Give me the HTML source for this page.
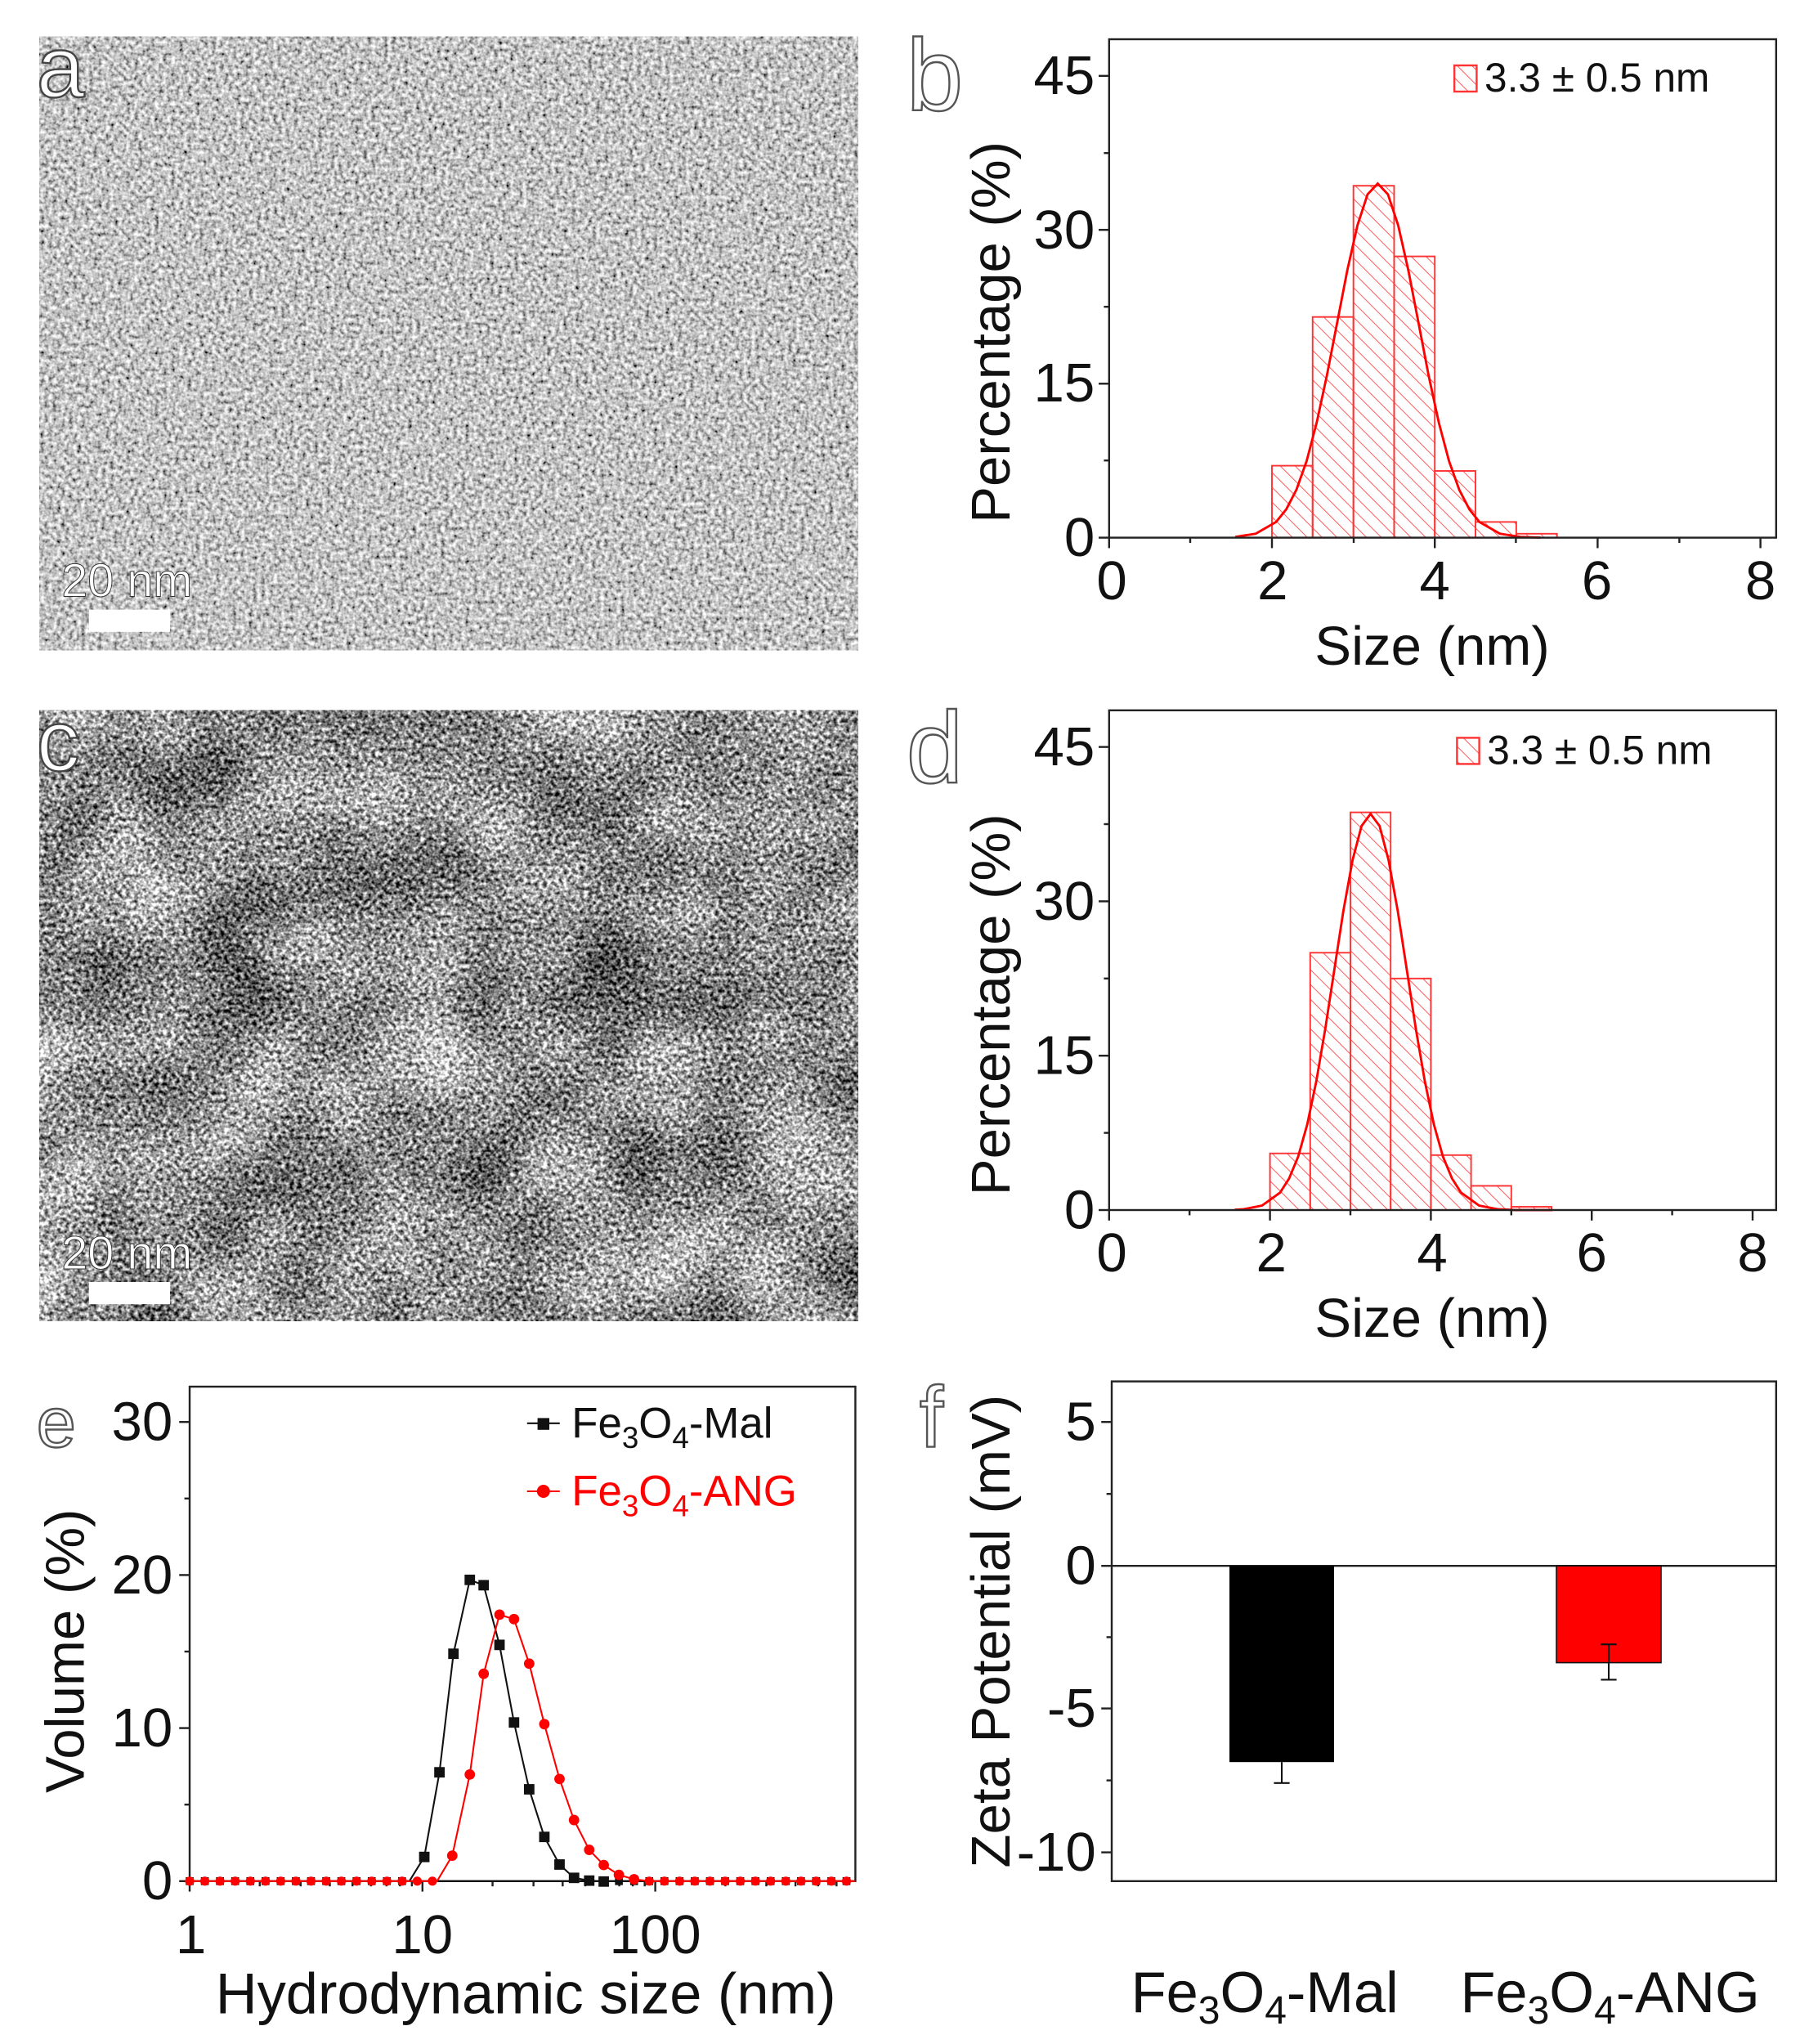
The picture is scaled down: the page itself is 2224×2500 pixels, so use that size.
<!DOCTYPE html>
<html><head><meta charset="utf-8"><style>
html,body{margin:0;padding:0;background:#fff}
svg{display:block}
text{font-family:"Liberation Sans",Arial,sans-serif}
</style></head><body>
<svg width="2224" height="2500" viewBox="0 0 1390 1562.5" xmlns="http://www.w3.org/2000/svg">
<defs>
<filter id="tem1" x="0" y="0" width="100%" height="100%">
<feTurbulence type="fractalNoise" baseFrequency="0.32" numOctaves="2" seed="3" result="n"/>
<feColorMatrix in="n" type="matrix" values="1.6 0 0 0 -0.25  1.6 0 0 0 -0.25  1.6 0 0 0 -0.25  0 0 0 0 1"/>
</filter>
<filter id="tem2" x="0" y="0" width="100%" height="100%" color-interpolation-filters="sRGB">
<feTurbulence type="fractalNoise" baseFrequency="0.32" numOctaves="2" seed="7" result="n0"/>
<feColorMatrix in="n0" type="matrix" values="1 0 0 0 0  1 0 0 0 0  1 0 0 0 0  0 0 0 0 1" result="n"/>
<feTurbulence type="fractalNoise" baseFrequency="0.014" numOctaves="2" seed="2" result="l0"/>
<feColorMatrix in="l0" type="matrix" values="1 0 0 0 0  1 0 0 0 0  1 0 0 0 0  0 0 0 0 1" result="l"/>
<feComposite in="n" in2="l" operator="arithmetic" k1="0" k2="1" k3="0.4" k4="-0.25" result="m"/>
<feColorMatrix in="m" type="matrix" values="1.7 0 0 0 -0.2  1.7 0 0 0 -0.2  1.7 0 0 0 -0.2  0 0 0 0 1"/>
</filter>
<pattern id="hatch" patternUnits="userSpaceOnUse" width="8" height="8" patternTransform="rotate(-45)">
<line x1="0" y1="0" x2="0" y2="8" stroke="#f55" stroke-width="1.2"/>
</pattern>
</defs>

<!-- panel a -->
<rect x="30" y="28" width="626" height="469" fill="#999" filter="url(#tem1)"/>
<text x="28" y="74" font-size="66" fill="#fff" stroke="#444" stroke-width="1.5">a</text>
<text x="47" y="456" font-size="36" fill="#fff" stroke="#333" stroke-width="0.6">20 nm</text>
<rect x="68" y="466" width="62" height="17" fill="#fff"/>

<!-- panel c -->
<rect x="30" y="543" width="626" height="467" fill="#999" filter="url(#tem2)"/>
<text x="28" y="589" font-size="66" fill="#fff" stroke="#444" stroke-width="1.5">c</text>
<text x="47" y="970" font-size="36" fill="#fff" stroke="#333" stroke-width="0.6">20 nm</text>
<rect x="68" y="980" width="62" height="17" fill="#fff"/>

<!-- panel b -->
<g>
<text x="693" y="84" font-size="78" fill="#fff" stroke="#555" stroke-width="1.5">b</text>
<g fill="url(#hatch)" stroke="#f33" stroke-width="1.2">
<rect x="972.5" y="356" width="31.1" height="55"/>
<rect x="1003.6" y="242.3" width="31.2" height="168.7"/>
<rect x="1034.8" y="142" width="31.1" height="269"/>
<rect x="1065.9" y="196" width="31.1" height="215"/>
<rect x="1097" y="360" width="31.1" height="51"/>
<rect x="1128.1" y="399" width="31.2" height="12"/>
<rect x="1159.3" y="408" width="31.1" height="3"/>
</g>
<polyline fill="none" stroke="#f00" stroke-width="1.8" points="944.5,410.4 960.1,408 975.6,399.1 983.4,389.4 991.2,374.4 999,352.5 1006.7,323.1 1014.5,287.1 1022.3,247 1030.1,206.7 1037.9,172.2 1045.6,148.6 1053.4,140.3 1061.2,148.6 1069,172.2 1076.8,206.7 1084.6,247 1092.3,287.1 1100.1,323.1 1107.9,352.5 1115.7,374.4 1123.5,389.4 1131.2,399.1 1146.8,408 1162.4,410.4 1177.9,411"/>
<rect x="848" y="30" width="510" height="381" fill="none" stroke="#222" stroke-width="1.5"/>
<g stroke="#222" stroke-width="1.5">
<line x1="840" y1="411" x2="848" y2="411"/><line x1="840" y1="293.3" x2="848" y2="293.3"/><line x1="840" y1="175.7" x2="848" y2="175.7"/><line x1="840" y1="58" x2="848" y2="58"/>
<line x1="844" y1="352" x2="848" y2="352"/><line x1="844" y1="234.5" x2="848" y2="234.5"/><line x1="844" y1="117" x2="848" y2="117"/>
<line x1="848" y1="411" x2="848" y2="419"/><line x1="972.5" y1="411" x2="972.5" y2="419"/><line x1="1097" y1="411" x2="1097" y2="419"/><line x1="1221.5" y1="411" x2="1221.5" y2="419"/><line x1="1346" y1="411" x2="1346" y2="419"/>
<line x1="910" y1="411" x2="910" y2="415"/><line x1="1035" y1="411" x2="1035" y2="415"/><line x1="1159" y1="411" x2="1159" y2="415"/><line x1="1284" y1="411" x2="1284" y2="415"/>
</g>
<g font-size="42" fill="#111" text-anchor="end">
<text x="837" y="425">0</text><text x="837" y="307">15</text><text x="837" y="190">30</text><text x="837" y="72">45</text>
</g>
<g font-size="42" fill="#111" text-anchor="middle">
<text x="850" y="458">0</text><text x="973" y="458">2</text><text x="1097" y="458">4</text><text x="1221" y="458">6</text><text x="1346" y="458">8</text>
<text x="1095" y="508">Size (nm)</text>
</g>
<text transform="translate(772,254) rotate(-90)" font-size="42" fill="#111" text-anchor="middle">Percentage (%)</text>
<rect x="1112" y="50" width="17" height="20" fill="url(#hatch)" stroke="#f33" stroke-width="1.5"/>
<text x="1135" y="70" font-size="31" fill="#111">3.3 ± 0.5 nm</text>
</g>

<!-- panel d -->
<g>
<text x="693" y="598" font-size="78" fill="#fff" stroke="#555" stroke-width="1.5">d</text>
<g fill="url(#hatch)" stroke="#f33" stroke-width="1.2">
<rect x="971" y="881.7" width="30.75" height="43.3"/>
<rect x="1001.75" y="728.3" width="30.75" height="196.7"/>
<rect x="1032.5" y="621" width="30.75" height="304"/>
<rect x="1063.25" y="748" width="30.75" height="177"/>
<rect x="1094" y="883" width="30.75" height="42"/>
<rect x="1124.75" y="906.5" width="30.75" height="18.5"/>
<rect x="1155.5" y="922.5" width="30.75" height="2.5"/>
</g>
<polyline fill="none" stroke="#f00" stroke-width="1.8" points="944,924.8 951,924.3 964.9,921.6 978.7,911.7 985.6,900.9 992.6,884 999.5,859.5 1006.4,826.6 1013.3,786.3 1020.2,741.3 1027.1,696.4 1034.1,657.7 1041,631.4 1047.9,622.1 1054.8,631.4 1061.7,657.7 1068.7,696.4 1075.6,741.3 1082.5,786.3 1089.4,826.6 1096.3,859.5 1103.2,884 1110.2,900.9 1117.1,911.7 1130.9,921.6 1144.8,924.3 1158.6,925 1187,925"/>
<rect x="848" y="543" width="510" height="382" fill="none" stroke="#222" stroke-width="1.5"/>
<g stroke="#222" stroke-width="1.5">
<line x1="840" y1="925" x2="848" y2="925"/><line x1="840" y1="807" x2="848" y2="807"/><line x1="840" y1="689" x2="848" y2="689"/><line x1="840" y1="571" x2="848" y2="571"/>
<line x1="844" y1="866" x2="848" y2="866"/><line x1="844" y1="748" x2="848" y2="748"/><line x1="844" y1="630" x2="848" y2="630"/>
<line x1="848" y1="925" x2="848" y2="933"/><line x1="971" y1="925" x2="971" y2="933"/><line x1="1094" y1="925" x2="1094" y2="933"/><line x1="1217" y1="925" x2="1217" y2="933"/><line x1="1340" y1="925" x2="1340" y2="933"/>
<line x1="909.5" y1="925" x2="909.5" y2="929"/><line x1="1032.5" y1="925" x2="1032.5" y2="929"/><line x1="1155.5" y1="925" x2="1155.5" y2="929"/><line x1="1278.5" y1="925" x2="1278.5" y2="929"/>
</g>
<g font-size="42" fill="#111" text-anchor="end">
<text x="837" y="939">0</text><text x="837" y="821">15</text><text x="837" y="703">30</text><text x="837" y="585">45</text>
</g>
<g font-size="42" fill="#111" text-anchor="middle">
<text x="850" y="972">0</text><text x="972" y="972">2</text><text x="1095" y="972">4</text><text x="1217" y="972">6</text><text x="1340" y="972">8</text>
<text x="1095" y="1022">Size (nm)</text>
</g>
<text transform="translate(772,768) rotate(-90)" font-size="42" fill="#111" text-anchor="middle">Percentage (%)</text>
<rect x="1114" y="564" width="17" height="20" fill="url(#hatch)" stroke="#f33" stroke-width="1.5"/>
<text x="1137" y="584" font-size="31" fill="#111">3.3 ± 0.5 nm</text>
</g>

<!-- panel e -->
<g>
<text x="28" y="1106" font-size="54" fill="#fff" stroke="#555" stroke-width="1.5">e</text>
<rect x="145" y="1060" width="509" height="378" fill="none" stroke="#222" stroke-width="1.5"/>
<g stroke="#222" stroke-width="1.5">
<line x1="137" y1="1438" x2="145" y2="1438"/><line x1="137" y1="1321" x2="145" y2="1321"/><line x1="137" y1="1204" x2="145" y2="1204"/><line x1="137" y1="1087" x2="145" y2="1087"/>
<line x1="141" y1="1379.5" x2="145" y2="1379.5"/><line x1="141" y1="1262.5" x2="145" y2="1262.5"/><line x1="141" y1="1145.5" x2="145" y2="1145.5"/>
<line x1="145" y1="1438" x2="145" y2="1446"/><line x1="323" y1="1438" x2="323" y2="1446"/><line x1="501" y1="1438" x2="501" y2="1446"/>
<line x1="198.6" y1="1438" x2="198.6" y2="1442"/><line x1="229.9" y1="1438" x2="229.9" y2="1442"/><line x1="252.2" y1="1438" x2="252.2" y2="1442"/><line x1="269.5" y1="1438" x2="269.5" y2="1442"/><line x1="283.6" y1="1438" x2="283.6" y2="1442"/><line x1="295.5" y1="1438" x2="295.5" y2="1442"/><line x1="305.8" y1="1438" x2="305.8" y2="1442"/><line x1="314.9" y1="1438" x2="314.9" y2="1442"/>
<line x1="376.6" y1="1438" x2="376.6" y2="1442"/><line x1="407.9" y1="1438" x2="407.9" y2="1442"/><line x1="430.2" y1="1438" x2="430.2" y2="1442"/><line x1="447.5" y1="1438" x2="447.5" y2="1442"/><line x1="461.6" y1="1438" x2="461.6" y2="1442"/><line x1="473.5" y1="1438" x2="473.5" y2="1442"/><line x1="483.8" y1="1438" x2="483.8" y2="1442"/><line x1="492.9" y1="1438" x2="492.9" y2="1442"/>
<line x1="554.6" y1="1438" x2="554.6" y2="1442"/><line x1="585.9" y1="1438" x2="585.9" y2="1442"/><line x1="608.2" y1="1438" x2="608.2" y2="1442"/><line x1="625.5" y1="1438" x2="625.5" y2="1442"/><line x1="639.6" y1="1438" x2="639.6" y2="1442"/>
</g>
<g font-size="42" fill="#111" text-anchor="end">
<text x="132" y="1452">0</text><text x="132" y="1335">10</text><text x="132" y="1218">20</text><text x="132" y="1101">30</text>
</g>
<g font-size="42" fill="#111" text-anchor="middle">
<text x="146" y="1493">1</text><text x="323" y="1493">10</text><text x="501" y="1493">100</text>
<text x="402" y="1539" font-size="44">Hydrodynamic size (nm)</text>
</g>
<text transform="translate(64,1262) rotate(-90)" font-size="42" fill="#111" text-anchor="middle">Volume (%)</text>
<!-- Mal -->
<line x1="145" y1="1438" x2="654" y2="1438" stroke="#111" stroke-width="1.3"/>
<line x1="145" y1="1438" x2="314" y2="1438" stroke="#111" stroke-width="6" stroke-dasharray="0 11.6" stroke-linecap="square"/>
<line x1="473.2" y1="1438" x2="654" y2="1438" stroke="#111" stroke-width="6" stroke-dasharray="0 11.6" stroke-linecap="square"/>
<polyline fill="none" stroke="#111" stroke-width="1.3" points="312.8,1438.3 324.4,1419.5 336,1354.8 346.7,1264.2 359.2,1207.7 369.8,1211.8 381.9,1257.4 393,1316.7 404.6,1367.8 416.2,1404.2 427.8,1425.3 438.9,1435.5 450.5,1437.6 461.6,1438.3"/>
<g fill="#111">
<rect x="320.4" y="1415.5" width="8" height="8"/><rect x="332" y="1350.8" width="8" height="8"/><rect x="342.7" y="1260.2" width="8" height="8"/><rect x="355.2" y="1203.7" width="8" height="8"/><rect x="365.8" y="1207.8" width="8" height="8"/><rect x="377.9" y="1253.4" width="8" height="8"/><rect x="389" y="1312.7" width="8" height="8"/><rect x="400.6" y="1363.8" width="8" height="8"/><rect x="412.2" y="1400.2" width="8" height="8"/><rect x="423.8" y="1421.3" width="8" height="8"/><rect x="434.9" y="1431.5" width="8" height="8"/><rect x="446.5" y="1433.6" width="8" height="8"/><rect x="457.6" y="1434.3" width="8" height="8"/>
</g>
<!-- ANG -->
<polyline fill="none" stroke="#f00" stroke-width="1.3" points="145,1438 334.2,1438 345.8,1418.5 359.2,1356.5 369.8,1279.5 381.9,1234.3 393,1237.7 404.6,1271.7 416.2,1318 427.8,1359.9 438.9,1391.3 450.5,1414.1 461.6,1425.7 473.2,1433.2 484.8,1436.6 496.4,1438 654,1438"/>
<line x1="145" y1="1438" x2="335" y2="1438" stroke="#f00" stroke-width="7" stroke-dasharray="0 11.6" stroke-linecap="round"/>
<line x1="496.4" y1="1438" x2="654" y2="1438" stroke="#f00" stroke-width="7" stroke-dasharray="0 11.6" stroke-linecap="round"/>
<g fill="#f00">
<circle cx="345.8" cy="1418.5" r="4"/><circle cx="359.2" cy="1356.5" r="4"/><circle cx="369.8" cy="1279.5" r="4"/><circle cx="381.9" cy="1234.3" r="4"/><circle cx="393" cy="1237.7" r="4"/><circle cx="404.6" cy="1271.7" r="4"/><circle cx="416.2" cy="1318" r="4"/><circle cx="427.8" cy="1359.9" r="4"/><circle cx="438.9" cy="1391.3" r="4"/><circle cx="450.5" cy="1414.1" r="4"/><circle cx="461.6" cy="1425.7" r="4"/><circle cx="473.2" cy="1433.2" r="4"/><circle cx="484.8" cy="1436.6" r="4"/>
</g>
<!-- legend -->
<line x1="403" y1="1088" x2="428" y2="1088" stroke="#111" stroke-width="1.3"/>
<rect x="411" y="1084" width="9" height="9" fill="#111"/>
<text x="437" y="1099" font-size="33" fill="#111">Fe<tspan font-size="23" dy="8">3</tspan><tspan dy="-8">O</tspan><tspan font-size="23" dy="8">4</tspan><tspan dy="-8">-Mal</tspan></text>
<line x1="403" y1="1140" x2="428" y2="1140" stroke="#f00" stroke-width="1.3"/>
<circle cx="415.5" cy="1140" r="5" fill="#f00"/>
<text x="437" y="1151" font-size="33" fill="#f00">Fe<tspan font-size="23" dy="8">3</tspan><tspan dy="-8">O</tspan><tspan font-size="23" dy="8">4</tspan><tspan dy="-8">-ANG</tspan></text>
</g>

<!-- panel f -->
<g>
<text x="703" y="1106" font-size="66" fill="#fff" stroke="#555" stroke-width="1.5">f</text>
<rect x="850" y="1056" width="508" height="382" fill="none" stroke="#222" stroke-width="1.5"/>
<line x1="850" y1="1197" x2="1358" y2="1197" stroke="#222" stroke-width="1.5"/>
<rect x="940" y="1197" width="80" height="150" fill="#000"/>
<rect x="1190" y="1197" width="80" height="74" fill="#f00" stroke="#111" stroke-width="1"/>
<g stroke="#111" stroke-width="1.3">
<line x1="980" y1="1347" x2="980" y2="1363"/><line x1="974" y1="1363" x2="986" y2="1363"/>
<line x1="1230" y1="1257" x2="1230" y2="1284"/><line x1="1224" y1="1257" x2="1236" y2="1257"/><line x1="1224" y1="1284" x2="1236" y2="1284"/>
</g>
<g stroke="#222" stroke-width="1.5">
<line x1="842" y1="1087" x2="850" y2="1087"/><line x1="842" y1="1197" x2="850" y2="1197"/><line x1="842" y1="1306" x2="850" y2="1306"/><line x1="842" y1="1416" x2="850" y2="1416"/>
<line x1="846" y1="1142" x2="850" y2="1142"/><line x1="846" y1="1251.5" x2="850" y2="1251.5"/><line x1="846" y1="1361" x2="850" y2="1361"/>
</g>
<g font-size="42" fill="#111" text-anchor="end">
<text x="838" y="1101">5</text><text x="838" y="1211">0</text><text x="838" y="1320">-5</text><text x="838" y="1430">-10</text>
</g>
<text transform="translate(772,1247) rotate(-90)" font-size="42" fill="#111" text-anchor="middle">Zeta Potential (mV)</text>
<text x="967" y="1538" font-size="44" fill="#111" text-anchor="middle">Fe<tspan font-size="30" dy="9">3</tspan><tspan dy="-9">O</tspan><tspan font-size="30" dy="9">4</tspan><tspan dy="-9">-Mal</tspan></text>
<text x="1231" y="1538" font-size="44" fill="#111" text-anchor="middle">Fe<tspan font-size="30" dy="9">3</tspan><tspan dy="-9">O</tspan><tspan font-size="30" dy="9">4</tspan><tspan dy="-9">-ANG</tspan></text>
</g>
</svg>
</body></html>
